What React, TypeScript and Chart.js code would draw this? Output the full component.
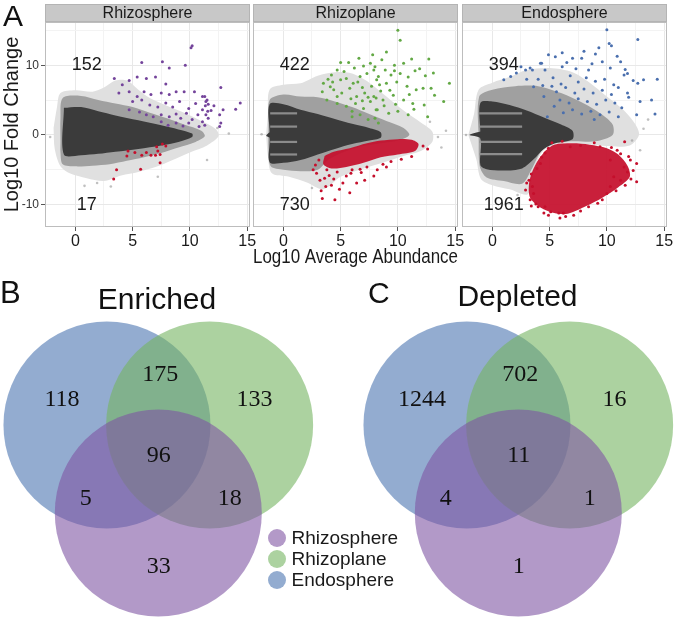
import React, { useEffect, useRef } from 'react';
import { Chart, registerables } from 'chart.js';

Chart.register(...registerables);

const SANS = "'Liberation Sans', Arial, sans-serif";
const SERIF = "'Liberation Serif', 'Times New Roman', serif";
Chart.defaults.font.family = SANS;

type P = { x: number; y: number };
const pts = (s: string): P[] =>
  s.trim().length === 0
    ? []
    : s.trim().split(/\s+/).map((t) => {
        const [x, y] = t.split(',').map(Number);
        return { x, y };
      });
const closed = (a: P[]) => (a.length ? [...a, a[0]] : a);

// ---------------- Panel A: MA plots ----------------
const FACETS = ['Rhizosphere', 'Rhizoplane', 'Endosphere'];
const X_TICKS = [0, 2.5, 5, 7.5, 10, 12.5, 15];
const X_LABELS = [0, 5, 10, 15];
const Y_TICKS = [-10, -5, 0, 5, 10, 15];
const Y_LABELS = [-10, 0, 10];
const ENRICHED_COUNT = [152, 422, 394];
const DEPLETED_COUNT = [17, 730, 1961];
const COUNT_X = 1;
const COUNT_Y = [10, -10];

// outlines of the grey (non-significant) point clouds: sparse halo, medium zone, dense core
const CLOUD_HALO = [
  '-1.9,1 -1.6,4 -1.3,6 0,6.4 1.5,6.2 2.5,6.8 3.5,7.8 4.5,7.8 5.5,6.5 6.5,5.3 8,4.2 9.5,3.2 11,2 12.3,0.8 12.5,-0.2 11.5,-1.5 10,-2.5 8.5,-3.6 7,-4.6 5.5,-5.3 4,-5.8 2.5,-6.6 1,-6.2 -0.5,-5.5 -1.3,-4.5 -1.8,-2',
  '-1.5,0 -1.35,3 -1.2,6.5 0,7.2 1.5,7.4 3,8.5 4.5,9 6,8.8 7.5,7.5 9,5.5 10.5,3.5 12,1.8 13,0.5 13,-1 12,-2.3 10.5,-3 9,-3.8 7,-4.8 5,-6 3.5,-7.8 2,-6.8 0.5,-6 -1,-5.5 -1.35,-3',
  '-2.1,0 -1.6,3 -1.2,6.5 0,7.5 1.5,8.3 3,9.3 5,9.6 7,9 8.5,7.5 10,5.5 11.5,3.5 12.5,1.5 12.8,0 12,-1.5 10,-1.6 8,-1.3 6,-1.3 4.5,-2.2 3.6,-5 3.1,-8.5 1.5,-7.8 0,-7.2 -1,-6.3 -1.4,-3.5',
];
const CLOUD_MID = [
  '-1.3,-1 -1.3,2.5 -1.1,5.3 0.5,5.6 2,5 3.5,4.5 5,4 6.5,3.2 8,2.4 9.5,1.5 11,0.6 11.3,-0.2 10.5,-1 9,-1.8 7.5,-2.6 6,-3.2 4.5,-3.7 3,-4.2 1.5,-4.4 0,-4.5 -1.1,-4.2 -1.3,-2.5',
  '-1.3,1 -1.2,5 0,5.8 1.5,5.5 3,5.4 4.5,4.8 6,4 7.5,3 9,2 10.5,1 11,0 10,-0.8 8.5,-1.2 7,-1.6 5.5,-2.3 4,-3.5 3,-5 1.5,-5.2 0,-5 -1.1,-4.5 -1.3,-2',
  '-1.2,-0.5 -1.15,5.5 0,6.5 2,7 4,7 6,6 8,4.5 9.5,3 10.5,1.5 10.5,0 9,-0.9 7,-0.9 5.2,-1.2 4.2,-2.5 3.4,-5 2.6,-7 1,-6.6 -0.5,-6.1 -1.1,-4.5',
];
const CLOUD_CORE = [
  '-1,3.9 0.5,4 2,3.4 3.5,2.8 5.5,2.1 7.5,1.4 9,0.8 10.2,0.2 10.2,-0.3 9,-1 7.5,-1.5 5.5,-2 3.5,-2.4 2,-2.7 0.5,-2.9 -1,-2.8',
  '-1.2,0.4 -1.2,4.4 0,4.4 1.5,3.6 3,3 4.5,2.3 6,1.6 7.5,1 8.5,0.4 8.5,-0.4 7.5,-0.8 6,-1.3 4.5,-2 3,-2.8 1.5,-3.6 0,-4 -1.2,-3.9 -1.2,-0.4 -1.5,-0.1',
  '-1.05,0.5 -1.05,4.6 0,4.8 1.5,4.3 3,3.5 4.5,2.5 6,1.5 7,0.6 7,-0.6 5.5,-1.2 4.5,-2 3.6,-3.5 2.6,-4.8 1,-5.1 -0.5,-4.9 -1.05,-4.3 -1.05,-0.5 -2,0',
];
// light gaps between the horizontal bands of low-abundance OTUs
const BAND_GAPS_Y = [[], [3.1, 1.2, -1.0, -2.8], [3.1, 1.2, -1.0, -2.75]];
const BAND_GAP_END = [0, 1.2, 2.6];
const STRAY_GRAY = [
  '1.9,-6.9 7.2,-6 11.5,-3.6 12.4,1 -2.2,-0.3 0.8,-7.3 3.1,-7.4 13.4,0.2',
  '14.2,0.6 13.5,-0.3 12.8,1.9 -1.9,0.1 2.5,-7.6 13.8,-1.8',
  '13.2,0.9 12.2,-0.8 13.6,2.2 -2.3,0 2.2,-8.6 12.9,-2.2',
];
// dense areas of depleted OTUs
const DEPLETED_DENSE = [
  '',
  '3.6,-3 4.4,-2.4 5.8,-1.9 7.3,-1.2 8.5,-0.8 10,-0.6 11.2,-0.7 11.8,-1.3 11.5,-2.3 10,-2.8 8.5,-3.2 7,-4 5.5,-4.6 4.2,-4.8 3.5,-4.2',
  '4.6,-2.3 5.4,-1.4 7,-1.2 8.5,-1.4 10,-1.9 11,-2.8 11.8,-4.4 12,-6 11,-7.5 9.6,-9 8.2,-10.2 6.6,-11.3 5.4,-11.2 4.2,-10.4 3.3,-9 3.2,-7 3.5,-5.2 4,-3.6',
];
const ENRICHED_PTS = [
  '10.1,12.5 10.2,12.8 5.8,10.4 7.6,10.5 8.2,9.6 9.6,10 3.4,8.1 4.1,7.2 4.7,7.8 5.4,8.3 6.2,8.1 7,8.3 7.9,7.3 3.8,6 4.7,6.2 5.4,5.5 6,6.2 6.6,5.8 7.5,6 8.2,5.8 8.8,6.2 9.5,6.2 10.4,6.2 11.1,5.5 5,4.8 5.8,5 6.5,4.3 7.2,4 7.9,4.6 8.5,4 9.1,4.8 9.9,3.8 10.5,4.5 11.4,4.8 4.7,3.6 5.6,3.3 6.2,2.9 6.8,2.6 7.5,2.9 8.2,2.6 8.8,3 9.2,2.4 9.7,3.1 10.2,2.2 10.7,2.9 11.1,1.9 7.5,1.9 8.1,1.4 8.8,1.7 9.4,1.3 9.9,1.7 10.8,1.2 12.7,6.8 11.3,5.5 11.5,5 11.6,4.4 11.35,4.2 11.1,3.6 11.56,3.4 11.85,3.5 11.4,2.9 11.6,2.4 11.3,1.4 12.6,2.9 12.7,1.7 12.6,1.2 12.9,3.6 14,3.7 14.4,4.6 12.1,4.2',
  '5.7,10.4 6.6,11 7.8,11.5 5.3,9.1 4.7,9.3 4.2,8.6 3.9,8 3.5,7.4 5,7.9 5.5,8.1 6.1,7.4 6.7,8.4 7.3,8.8 7.9,9.3 8.3,8.4 4.4,6.5 5.1,6 5.8,6.7 6.4,5.5 7.1,6 7.7,7 8.1,5.3 3.8,5 4.7,4.5 5.5,4.1 6.3,4.5 7,3.8 7.6,4.8 8.1,3.6 6,2.6 6.7,2.9 7.4,2.2 8,2.4 8.3,1.7 4.1,6.9 4.7,5.5 10,15 10.2,13.6 12.7,10.9 14.5,7.4 14,4.8 9,11.9 8,9.8 8.9,9.3 9.7,10 10.5,10.3 11.5,9.2 11.9,9.5 8.15,7.9 9,7.4 9.9,7.6 10.8,7 11.6,6.5 12.2,6.7 12.9,6.7 13.2,5.7 7.9,5.5 8.7,5 9.6,5.7 10.5,5 11.3,4.5 12.6,2.6 8.2,3.6 9.2,3.1 10,3.4 10.9,2.9 6.9,6.8 7.4,5.4 8.5,6.3 9.3,6.4 6.2,9.6 7,9.9 9.4,8.6 10.2,8.8 10.9,8.3 9.8,4.4 8.8,4.2 6.5,7.6 5.9,5.2 11.4,3.7 12.3,4.3 11,5.8 7.6,10.3 8.6,10.8 5,10.4 4.3,7.6 3.4,6.2 6,3.4 6.9,4.9 8.4,7.2 9.7,9.2 12.4,8.5 11.2,10.9 13.1,8.9',
  '10,15.1 10.2,13.1 10.4,12.8 12.7,13.7 6.1,11.8 4.9,11.5 5.5,11.2 9,11.6 9.6,10.5 4.3,10.3 3.5,9.3 4.6,9.3 6.1,9.8 7,11 7.8,11 8.4,9.3 10.3,9.6 11.6,9.4 11.8,8.8 11.5,8.6 14.4,8 13.2,7.9 12.3,7.8 12.7,7.4 13.9,5 14.2,3 12.6,2.9 12.9,4.8 11.8,6 11.9,5.4 1,7.9 1.6,8.4 2.1,8.9 2.9,9.3 3.3,9.6 4.2,10.3 3.6,6.9 4.5,5.5 5.4,4.1 4.8,2.6 5.3,8.2 6,7.3 6.8,8.5 7.5,7.6 8.2,8.2 9,7.7 9.8,8 10.6,7.2 5.6,6.2 6.4,6.8 7.2,6 8,6.6 8.8,6 9.6,6.4 10.4,5.8 11,6.8 5.9,5 6.7,4.6 7.5,5.2 8.3,4.8 9.1,4.4 9.9,5 10.7,4.6 11.3,3.9 6.2,3.2 7,3.6 7.8,3 8.6,3.4 9.4,2.9 10.2,3.3 11,2.6 8.9,2.2 7.3,9.5 8.7,10.2 6.5,10.4 5.2,7 4,8 3,8 2.5,9.8 4.4,7.1 11.2,10.5 10.9,11.3 9.3,12.5 8,12',
];
const DEPLETED_PTS = [
  '3.35,-6.3 3.6,-5 4.5,-3 4.6,-2.3 5.7,-4.9 5.2,-2.5 5.8,-2.9 6.2,-2.5 6.6,-2.9 7.1,-1.7 7.2,-2.3 7.4,-2.8 7.6,-1.3 7.9,-1.6 7.4,-4 7,-2.9',
  '3.4,-9.1 4.5,-9.3 3.2,-6.5 3.7,-7.4 4.2,-7.2 5.2,-6.9 5.5,-5.9 6.4,-6.9 7.1,-6.5 7.9,-5.9 2.9,-5.5 3.8,-5 4.7,-5.3 6,-5 7.3,-4.6 8.2,-5 12.6,-2 2.8,-4.3 3.1,-3.6 4,-5.8 5.9,-5.5 6.8,-5.4 8.7,-4.2 9.4,-3.8 10.3,-3.5 11.2,-3.1 12.2,-1.6 3.3,-8 4.9,-7.8 5.8,-8.3 9,-4.6 2.6,-5 3.6,-6.2 4.4,-6.3 6.7,-4.9',
  '12.6,-4.1 12.6,-6.7 12.05,-3.6 11.8,-5.3 11.5,-4.6 10.6,-6 11.2,-6.5 10.3,-7.4 10,-8.4 9.6,-9.3 8.4,-10.3 7.1,-11.5 6.4,-11.7 6.2,-11.2 5.8,-11.2 5.1,-11 4.6,-10.3 11.55,-0.96 10.4,-1.8 11.2,-2.7 9.4,-1.7 7.7,-1.5 6.8,-1.7 10.3,-3.6 3.2,-6.5 3.3,-9.3 3.6,-8.4 4,-10.3 4.5,-11.2 3.5,-7.4 4.2,-4.1 4.6,-2.6 4.9,-1.9 3.4,-5.6 3.9,-4.8 4.3,-3.2 5.2,-1.1 6.1,-0.9 8.9,-1.1 10.9,-2.2 11.9,-3.1 12.3,-5.1 12.1,-6.3 11.6,-7.2 10.8,-8 9.2,-9.8 7.7,-10.9 5.9,-11.9 4.9,-11.5 3.8,-9.9 3.4,-10.2 2.9,-7.9 3,-6.9',
];
const ENRICHED_COLOR = ['#74449b', '#62a844', '#4a6fae'];
const DEPLETED_COLOR = '#c50f2c';

// ---------------- Panels B and C: Venn diagrams ----------------
const VENN_SETS = ['Rhizosphere', 'Rhizoplane', 'Endosphere'];
const VENN_RGB = ['127,85,163', '117,180,97', '75,117,177'];
const VENN_ALPHA = 0.6;
const LEGEND_FILL = ['#b399c8', '#acd2a0', '#93acd0'];
// regions: Endo only, Endo+Plane, Plane only, Endo+Sphere, all three, Plane+Sphere, Sphere only
const ENRICHED_REGIONS = [118, 175, 133, 5, 96, 18, 33];
const DEPLETED_REGIONS = [1244, 702, 16, 4, 11, 1, 1];
// layout (in units of the circle radius)
const VENN_R_PX = 103.5;
const VENN_CENTERS = [
  [0, -0.85],
  [0.496, 0],
  [-0.496, 0],
];
const REGION_POS = [
  [-0.93, 0.245],
  [0.02, 0.485],
  [0.93, 0.245],
  [-0.7, -0.71],
  [0.005, -0.3],
  [0.69, -0.71],
  [0.005, -1.365],
];

// ---------------- chart builders ----------------
function maConfig(i: number): any {
  const poly = (s: string, color: string, order: number) => ({
    type: 'line',
    data: closed(pts(s)),
    fill: 'shape',
    backgroundColor: color,
    borderColor: color,
    borderWidth: 0,
    pointRadius: 0,
    tension: 0.3,
    order,
  });
  const datasets: any[] = [
    poly(CLOUD_HALO[i], '#e0e0e0', 20),
    poly(CLOUD_MID[i], '#a0a0a0', 19),
    poly(CLOUD_CORE[i], '#3b3b3b', 18),
  ];
  BAND_GAPS_Y[i].forEach((y) =>
    datasets.push({
      type: 'line',
      data: [
        { x: -1.15, y },
        { x: BAND_GAP_END[i], y },
      ],
      borderColor: 'rgba(150,150,150,0.9)',
      borderWidth: 2.2,
      pointRadius: 0,
      fill: false,
      order: 17,
    })
  );
  datasets.push({
    type: 'scatter',
    data: pts(STRAY_GRAY[i]),
    pointRadius: 1.3,
    backgroundColor: 'rgba(140,140,140,0.55)',
    borderWidth: 0,
    order: 15,
  });
  if (DEPLETED_DENSE[i]) datasets.push(poly(DEPLETED_DENSE[i], 'rgba(197,15,44,0.93)', 6));
  datasets.push({
    type: 'scatter',
    data: pts(DEPLETED_PTS[i]),
    pointRadius: 1.5,
    backgroundColor: DEPLETED_COLOR,
    borderWidth: 0,
    order: 2,
  });
  datasets.push({
    type: 'scatter',
    data: pts(ENRICHED_PTS[i]),
    pointRadius: 1.5,
    backgroundColor: ENRICHED_COLOR[i],
    borderWidth: 0,
    order: 1,
  });

  const decor = {
    id: 'maDecor' + i,
    afterDraw(chart: any) {
      const { ctx, chartArea: a, scales } = chart;
      ctx.save();
      ctx.strokeStyle = '#bdbdbd';
      ctx.lineWidth = 1;
      ctx.strokeRect(a.left + 0.5, a.top + 0.5, a.right - a.left - 1, a.bottom - a.top - 1);
      ctx.fillStyle = '#c8c8c8';
      ctx.fillRect(a.left, 4, a.right - a.left, 18);
      ctx.strokeStyle = '#b4b4b4';
      ctx.strokeRect(a.left + 0.5, 4.5, a.right - a.left - 1, 17);
      ctx.fillStyle = '#1a1a1a';
      ctx.textAlign = 'center';
      ctx.textBaseline = 'middle';
      ctx.font = `16px ${SANS}`;
      ctx.fillText(FACETS[i], (a.left + a.right) / 2, 13.5);
      ctx.font = `18px ${SANS}`;
      const px = scales.x.getPixelForValue(COUNT_X);
      ctx.fillText(String(ENRICHED_COUNT[i]), px, scales.y.getPixelForValue(COUNT_Y[0]));
      ctx.fillText(String(DEPLETED_COUNT[i]), px, scales.y.getPixelForValue(COUNT_Y[1]));
      ctx.restore();
    },
  };

  return {
    type: 'scatter',
    data: { datasets },
    plugins: [decor],
    options: {
      animation: false,
      responsive: false,
      events: [],
      layout: { padding: { top: 22, left: i === 0 ? 0 : 6, right: i === 2 ? 8 : 10, bottom: 0 } },
      plugins: { legend: { display: false }, tooltip: { enabled: false } },
      scales: {
        x: {
          type: 'linear',
          min: -2.65,
          max: 15.25,
          afterBuildTicks: (ax: any) => {
            ax.ticks = X_TICKS.map((v) => ({ value: v }));
          },
          afterFit: (s: any) => {
            s.height = 43;
          },
          border: { display: false },
          grid: {
            color: (c: any) => (c.tick && c.tick.value % 5 === 0 ? '#e8e8e8' : '#f3f3f3'),
            tickColor: (c: any) => (c.tick && X_LABELS.includes(c.tick.value) ? '#555' : 'rgba(0,0,0,0)'),
            tickLength: 4,
          },
          ticks: {
            autoSkip: false,
            maxRotation: 0,
            padding: 1,
            color: '#1a1a1a',
            font: { size: 16 },
            callback: (v: number) => (X_LABELS.includes(v) ? String(v) : ''),
          },
          title:
            i === 1
              ? {
                  display: true,
                  text: 'Log10 Average Abundance',
                  color: '#1a1a1a',
                  font: { size: 20 },
                  padding: { top: 0, bottom: 1 },
                }
              : { display: false },
        },
        y: {
          type: 'linear',
          min: -13.2,
          max: 16.2,
          afterBuildTicks: (ax: any) => {
            ax.ticks = Y_TICKS.map((v) => ({ value: v }));
          },
          afterFit: (s: any) => {
            s.width = i === 0 ? 45 : 0;
          },
          border: { display: false },
          grid: {
            color: (c: any) => (c.tick && c.tick.value % 10 === 0 ? '#e8e8e8' : '#f3f3f3'),
            tickColor: (c: any) => (c.tick && Y_LABELS.includes(c.tick.value) ? '#555' : 'rgba(0,0,0,0)'),
            tickLength: 4,
            drawTicks: i === 0,
          },
          ticks: {
            display: i === 0,
            autoSkip: false,
            padding: 2,
            color: '#333',
            font: { size: 12 },
            callback: (v: number) => (Y_LABELS.includes(v) ? String(v) : ''),
          },
          title:
            i === 0
              ? {
                  display: true,
                  text: 'Log10 Fold Change',
                  color: '#1a1a1a',
                  font: { size: 20 },
                  padding: { top: 0, bottom: 0 },
                }
              : { display: false },
        },
      },
    },
  };
}

const VENN_W = [320, 315];
const VENN_H = 304;
const VENN_ORIGIN = { x: 158.3, y: 109 };

function vennConfig(k: number): any {
  const regions = k === 0 ? ENRICHED_REGIONS : DEPLETED_REGIONS;
  const W = VENN_W[k];
  const datasets = VENN_SETS.map((name, s) => ({
    type: 'bubble',
    label: name,
    data: [{ x: VENN_CENTERS[s][0], y: VENN_CENTERS[s][1], r: VENN_R_PX }],
    backgroundColor: `rgba(${VENN_RGB[s]},${VENN_ALPHA})`,
    borderWidth: 0,
    order: s + 1,
  }));
  const labels = {
    id: 'vennLabels' + k,
    afterDatasetsDraw(chart: any) {
      const { ctx, scales } = chart;
      ctx.save();
      ctx.fillStyle = '#111';
      ctx.textAlign = 'center';
      ctx.textBaseline = 'middle';
      ctx.font = `24px ${SERIF}`;
      regions.forEach((n, r) => {
        ctx.fillText(String(n), scales.x.getPixelForValue(REGION_POS[r][0]), scales.y.getPixelForValue(REGION_POS[r][1]));
      });
      ctx.restore();
    },
  };
  return {
    type: 'bubble',
    data: { datasets },
    plugins: [labels],
    options: {
      animation: false,
      responsive: false,
      events: [],
      layout: { padding: 0, autoPadding: false },
      plugins: { legend: { display: false }, tooltip: { enabled: false } },
      scales: {
        x: { type: 'linear', display: false, min: -VENN_ORIGIN.x / VENN_R_PX, max: (W - VENN_ORIGIN.x) / VENN_R_PX },
        y: { type: 'linear', display: false, min: -(VENN_H - VENN_ORIGIN.y) / VENN_R_PX, max: VENN_ORIGIN.y / VENN_R_PX },
      },
    },
  };
}

function ChartCanvas({ make, left, top, width, height }: { make: () => any; left: number; top: number; width: number; height: number }) {
  const ref = useRef<HTMLCanvasElement>(null);
  useEffect(() => {
    const chart = new Chart(ref.current as HTMLCanvasElement, make());
    return () => chart.destroy();
  }, []);
  return (
    <canvas
      ref={ref}
      width={width}
      height={height}
      style={{ position: 'absolute', left, top, width, height, display: 'block' }}
    />
  );
}

const txt = (extra: React.CSSProperties): React.CSSProperties => ({
  position: 'absolute',
  fontFamily: SANS,
  color: '#111',
  whiteSpace: 'nowrap',
  ...extra,
});

export default function App() {
  return (
    <div style={{ position: 'absolute', left: 0, top: 0, width: 675, height: 620, overflow: 'hidden', background: '#fff' }}>
      <ChartCanvas make={() => maConfig(0)} left={0} top={0} width={260} height={270} />
      <ChartCanvas make={() => maConfig(1)} left={247} top={0} width={221} height={270} />
      <ChartCanvas make={() => maConfig(2)} left={456} top={0} width={219} height={270} />
      <ChartCanvas make={() => vennConfig(0)} left={0} top={316} width={VENN_W[0]} height={VENN_H} />
      <ChartCanvas make={() => vennConfig(1)} left={360} top={316} width={VENN_W[1]} height={VENN_H} />

      <div style={txt({ left: 3, top: 0.6, fontSize: 30, lineHeight: '30px' })}>A</div>
      <div style={txt({ left: 0, top: 277, fontSize: 31, lineHeight: '31px' })}>B</div>
      <div style={txt({ left: 368, top: 277.6, fontSize: 30, lineHeight: '30px' })}>C</div>
      <div style={txt({ left: 57, width: 200, textAlign: 'center', top: 283.6, fontSize: 30, lineHeight: '30px' })}>Enriched</div>
      <div style={txt({ left: 417.5, width: 200, textAlign: 'center', top: 280.6, fontSize: 30, lineHeight: '30px' })}>Depleted</div>

      {VENN_SETS.map((name, s) => (
        <div
          key={name}
          style={txt({ left: 267.5, top: [528.3, 548.8, 569.8][s], height: 20, display: 'flex', alignItems: 'center' })}
        >
          <div style={{ width: 18, height: 18, borderRadius: 9, background: LEGEND_FILL[s] }} />
          <div style={{ marginLeft: 6, fontSize: 19, lineHeight: '20px', color: '#1a1a1a' }}>{name}</div>
        </div>
      ))}
    </div>
  );
}
